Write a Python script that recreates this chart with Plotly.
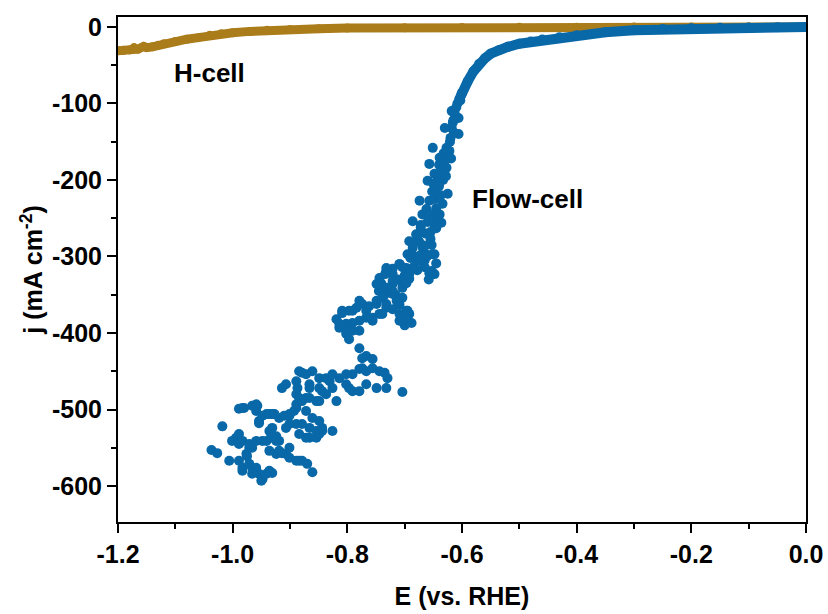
import plotly.graph_objects as go

# ---------------- data ----------------
# H-cell LSV (E vs. RHE, j in mA cm^-2)
hcell_E = [-1.2, -1.19, -1.18, -1.172, -1.165, -1.155, -1.15, -1.14, -1.13, -1.12, -1.10, -1.08,
           -1.06, -1.04, -1.02, -1.00, -0.97, -0.94, -0.90, -0.85, -0.80, -0.70, -0.60,
           -0.50, -0.40, -0.30, -0.20, -0.10, 0.0]
hcell_j = [-31, -30.5, -30, -27, -29, -25.5, -27, -26, -24, -22, -19, -16,
           -14, -11, -9, -7.5, -5.8, -4.4, -3.2, -2.2, -1.5, -1.0, -0.7,
           -0.5, -0.3, -0.2, -0.1, -0.05, 0]

# Flow-cell LSV, low-overpotential (smooth) part
flow_smooth_E = [0.0, -0.05, -0.10, -0.15, -0.20, -0.25, -0.30, -0.35, -0.40, -0.43, -0.46,
                 -0.48, -0.50, -0.52, -0.535, -0.55, -0.56, -0.57, -0.58, -0.59, -0.60, -0.605]
flow_smooth_j = [0, -0.3, -0.6, -1.0, -1.6, -2.6, -4.2, -7, -11, -13.5, -16.5,
                 -19, -22, -26, -30, -35, -41, -48, -58, -71, -86, -95]

# Flow-cell LSV, high-current (noisy) part
flow_noisy_E = [
    -0.613, -0.618, -0.627, -0.639, -0.648, -0.645, -0.657, -0.669, -0.680, -0.686, -0.697, -0.721,
    -0.618, -0.630, -0.651, -0.657, -0.660, -0.674, -0.686, -0.692, -0.695, -0.709, -0.732,
    -0.601, -0.606, -0.606, -0.622, -0.627, -0.625, -0.634, -0.639, -0.645, -0.651, -0.653,
    -0.608, -0.615, -0.620, -0.632, -0.640, -0.642, -0.652, -0.648, -0.662, -0.660, -0.672,
    -0.675, -0.668, -0.690, -0.665,
    -0.610, -0.612, -0.616, -0.614, -0.621, -0.624, -0.630, -0.636, -0.633, -0.640, -0.650,
    -0.637, -0.645, -0.655, -0.650, -0.664, -0.655, -0.670, -0.683, -0.678, -0.658, -0.603,
    -0.619, -0.628, -0.642, -0.653, -0.680, -0.700, -0.712, -0.725, -0.735, -0.745,
    -0.672, -0.648, -0.636, -0.678, -0.655, -0.665, -0.674, -0.660, -0.648, -0.645, -0.648,
    -0.665, -0.685, -0.704, -0.721, -0.734, -0.741, -0.721, -0.704, -0.692, -0.716, -0.704,
    -0.709, -0.704, -0.692, -0.688, -0.700,
    -0.686, -0.662, -0.674, -0.657, -0.709, -0.732, -0.744, -0.721, -0.692, -0.704, -0.721,
    -0.709, -0.697, -0.695, -0.709, -0.732, -0.749, -0.767, -0.779, -0.791, -0.809, -0.819,
    -0.814, -0.802, -0.797, -0.779, -0.756, -0.739, -0.779, -0.767, -0.756, -0.774,
    -0.809, -0.797, -0.784, -0.774, -0.762, -0.749, -0.739, -0.732, -0.744, -0.756, -0.767,
    -0.779, -0.791, -0.802, -0.814, -0.802, -0.791, -0.721, -0.709, -0.697, -0.695, -0.714,
    -0.721, -0.732, -0.749, -0.697,
    -0.774, -0.744, -0.730, -0.749, -0.732, -0.704, -0.791, -0.814, -0.831, -0.849, -0.861,
    -0.879, -0.889, -0.914, -0.907, -0.887, -0.866, -0.844, -0.819, -0.826, -0.802, -0.791,
    -0.779, -0.884, -0.872, -0.837, -0.826, -0.802, -0.779, -0.767, -0.756, -0.735, -0.767,
    -0.797, -0.849, -0.866, -0.837,
    -0.854, -0.872, -0.884, -0.889, -0.901, -0.872, -0.861, -0.849, -0.866, -0.872, -0.854,
    -0.844, -0.826, -0.889, -0.907, -0.919, -0.931, -0.941, -0.954, -0.959, -0.966, -0.983,
    -0.959, -0.936, -0.931, -0.919, -0.948, -0.966, -0.976, -0.971, -0.994, -1.001, -0.989,
    -1.018, -1.037, -1.027, -1.006, -0.989, -0.983, -0.966, -0.954, -0.948, -0.936, -0.919,
    -0.907, -0.889, -0.879, -0.870, -0.861, -0.924, -0.901,
    -0.983, -0.971, -0.959, -0.950, -0.931, -0.941, -0.966, -0.989, -0.983, -0.971, -0.959,
    -0.941, -0.975, -0.936, -0.914, -0.901, -0.884, -0.989, -0.980, -0.957, -0.948, -0.936,
    -0.927, -0.954, -0.931, -0.933, -0.924, -0.924, -0.910, -0.901, -0.893, -0.901, -0.879,
    -0.854, -0.844, -0.884, -0.866, -0.849, -0.889, -0.879, -0.866, -0.849, -0.889,
]
flow_noisy_j = [
    -110, -132, -158, -171, -192, -210, -227, -245, -271, -289, -315, -323,
    -110, -132, -158, -179, -201, -227, -254, -280, -297, -310, -319,
    -88, -119, -140, -162, -184, -218, -231, -245, -263, -297, -319,
    -100, -122, -145, -165, -180, -198, -215, -225, -238, -255, -262,
    -280, -290, -302, -305,
    -105, -115, -125, -138, -150, -170, -175, -188, -200, -208, -205,
    -220, -237, -245, -252, -270, -268, -285, -300, -318, -330, -96,
    -172, -195, -250, -285, -305, -325, -330, -340, -350, -345,
    -259, -259, -256, -272, -277, -286, -299, -299, -297, -309, -323,
    -314, -314, -314, -316, -323, -335, -336, -335, -329, -350, -354,
    -363, -378, -375, -387, -390,
    -282, -297, -306, -322, -310, -315, -328, -332, -323, -341, -349,
    -358, -371, -382, -384, -367, -362, -371, -358, -371, -371, -382,
    -393, -401, -408, -397, -384, -375, -420, -430, -434, -433,
    -374, -371, -367, -362, -365, -358, -354, -362, -375, -380, -380,
    -384, -387, -388, -388, -397, -397, -369, -375, -382, -371, -358,
    -345, -341, -336, -335,
    -446, -450, -459, -472, -472, -477, -454, -459, -463, -459, -450,
    -452, -463, -472, -467, -472, -467, -476, -489, -472, -467, -476,
    -476, -450, -454, -459, -454, -454, -447, -450, -446, -452, -467,
    -472, -472, -472, -480,
    -489, -485, -485, -498, -506, -502, -511, -515, -524, -537, -537,
    -528, -528, -519, -524, -511, -506, -506, -515, -502, -495, -498,
    -493, -528, -537, -541, -541, -550, -558, -550, -537, -541, -545,
    -522, -553, -557, -567, -567, -580, -576, -584, -591, -580, -554,
    -558, -567, -567, -571, -582, -558, -550,
    -576, -571, -576, -593, -583, -584, -584, -532, -541, -545, -541,
    -541, -561, -554, -557, -563, -567, -499, -498, -495, -508, -506,
    -506, -518, -524, -532, -535, -541, -508, -508, -502, -519, -519,
    -528, -524, -532, -537, -532, -493, -489, -485, -489, -480,
]

x_ticks = [-1.2, -1.0, -0.8, -0.6, -0.4, -0.2, 0.0]
x_ticklabels = ["-1.2", "-1.0", "-0.8", "-0.6", "-0.4", "-0.2", "0.0"]
y_ticks = [0, -100, -200, -300, -400, -500, -600]
y_ticklabels = ["0", "-100", "-200", "-300", "-400", "-500", "-600"]

# ---------------- style ----------------
GOLD = "#AA7C1A"
BLUE = "#0868A8"
MS = 10
FONT = "Liberation Sans, Arial, sans-serif"
FS = 25

fig = go.Figure()

fig.add_trace(go.Scatter(
    x=hcell_E, y=hcell_j, mode="lines+markers",
    line=dict(color=GOLD, width=9), marker=dict(color=GOLD, size=9),
    showlegend=False, hoverinfo="skip"))

fig.add_trace(go.Scatter(
    x=flow_smooth_E, y=flow_smooth_j, mode="lines+markers",
    line=dict(color=BLUE, width=MS), marker=dict(color=BLUE, size=MS),
    showlegend=False, hoverinfo="skip"))

fig.add_trace(go.Scatter(
    x=flow_noisy_E, y=flow_noisy_j, mode="markers",
    marker=dict(color=BLUE, size=MS),
    showlegend=False, hoverinfo="skip"))

fig.add_annotation(x=-1.041, y=-60, text="H-cell", showarrow=False,
                   font=dict(family=FONT, size=26, color="black", weight="bold"))
fig.add_annotation(x=-0.486, y=-225, text="Flow-cell", showarrow=False,
                   font=dict(family=FONT, size=26, color="black", weight="bold"))

axis_common = dict(
    showgrid=False, zeroline=False, showline=True, linecolor="black", linewidth=2,
    mirror=True, ticks="outside", ticklen=9, tickwidth=2, tickcolor="black",
    automargin=False,
    tickfont=dict(family=FONT, size=FS, color="black", weight="bold"),
)

fig.update_xaxes(
    range=[-1.2, 0.0], tickvals=x_ticks, ticktext=x_ticklabels,
    minor=dict(dtick=0.1, ticks="outside", ticklen=5, tickwidth=2, tickcolor="black"),
    title=dict(text="E (vs. RHE)", font=dict(family=FONT, size=FS, color="black", weight="bold"),
               standoff=20),
    **axis_common)
fig.update_yaxes(
    range=[-647, 13], tickvals=y_ticks, ticktext=y_ticklabels,
    minor=dict(dtick=50, ticks="outside", ticklen=5, tickwidth=2, tickcolor="black"),
    title=dict(text="j (mA cm<sup>-2</sup>)", font=dict(family=FONT, size=FS, color="black", weight="bold"),
               standoff=2),
    **axis_common)

fig.update_layout(
    width=828, height=614,
    margin=dict(l=118, r=22, t=17, b=92),
    paper_bgcolor="white", plot_bgcolor="white",
)

fig.write_html("out.html", config={"displayModeBar": False},
               post_script="document.body.style.margin='0';document.body.style.overflow='hidden';")
